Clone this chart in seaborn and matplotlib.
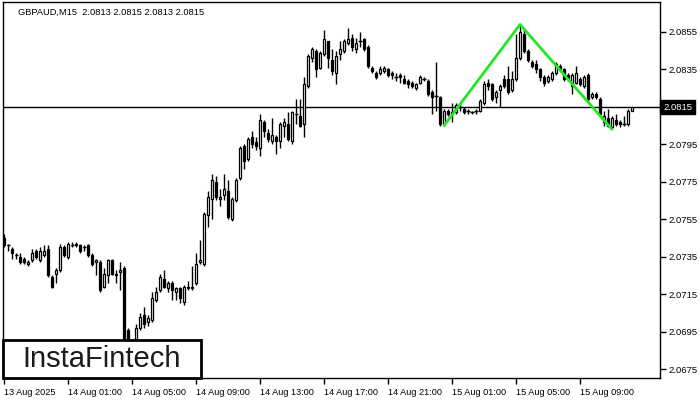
import numpy as np
import pandas as pd
import matplotlib
matplotlib.use("Agg")
import matplotlib.pyplot as plt
import seaborn as sns
from matplotlib.patches import Rectangle

symbol_title = "GBPAUD,M15  2.0813 2.0815 2.0813 2.0815"
time_labels = ["13 Aug 2025", "14 Aug 01:00", "14 Aug 05:00", "14 Aug 09:00", "14 Aug 13:00",
               "14 Aug 17:00", "14 Aug 21:00", "15 Aug 01:00", "15 Aug 05:00", "15 Aug 09:00"]
label_bars = [0, 16, 32, 48, 64, 80, 96, 112, 128, 144]
y_ticks = [2.0675, 2.0695, 2.0715, 2.0735, 2.0755, 2.0775, 2.0795, 2.0815, 2.0835, 2.0855]
current_price = 2.0815

opens = [2.0745, 2.0741, 2.0739, 2.0736, 2.0735, 2.0734, 2.0731, 2.0733, 2.0738, 2.0733,
         2.0736, 2.0739, 2.0724, 2.0726, 2.0728, 2.0740, 2.0735, 2.0741, 2.0742, 2.0741,
         2.0740, 2.0741, 2.0736, 2.0732, 2.0732, 2.0719, 2.0725, 2.0733, 2.0726, 2.0727,
         2.0729, 2.0696, 2.0685, 2.0691, 2.0697, 2.0704, 2.0700, 2.0701, 2.0712, 2.0717,
         2.0723, 2.0718, 2.0721, 2.0716, 2.0718, 2.0711, 2.0719, 2.0718, 2.0721, 2.0732,
         2.0731, 2.0757, 2.0766, 2.0775, 2.0766, 2.0768, 2.0770, 2.0755, 2.0765, 2.0777,
         2.0794, 2.0787, 2.0799, 2.0796, 2.0793, 2.0807, 2.0801, 2.0797, 2.0799, 2.0797,
         2.0805, 2.0806, 2.0797, 2.0811, 2.0810, 2.0806, 2.0826, 2.0841, 2.0845, 2.0836,
         2.0843, 2.0850, 2.0840, 2.0833, 2.0843, 2.0845, 2.0849, 2.0852, 2.0846, 2.0850,
         2.0851, 2.0847, 2.0836, 2.0833, 2.0833, 2.0834, 2.0835, 2.0833, 2.0831, 2.0832,
         2.0830, 2.0829, 2.0828, 2.0825, 2.0828, 2.0830, 2.0829, 2.0823, 2.0821, 2.0820,
         2.0806, 2.0813, 2.0811, 2.0812, 2.0815, 2.0814, 2.0813, 2.0812, 2.0813, 2.0813,
         2.0817, 2.0828, 2.0827, 2.0820, 2.0824, 2.0830, 2.0830, 2.0824, 2.0830, 2.0841,
         2.0854, 2.0845, 2.0839, 2.0838, 2.0835, 2.0831, 2.0829, 2.0830, 2.0833, 2.0837,
         2.0835, 2.0832, 2.0826, 2.0828, 2.0830, 2.0826, 2.0832, 2.0820, 2.0822, 2.0819,
         2.0807, 2.0809, 2.0804, 2.0808, 2.0807, 2.0806, 2.0806, 2.0813]
highs = [2.0747, 2.0742, 2.0740, 2.0737, 2.0737, 2.0735, 2.0733, 2.0739, 2.0739, 2.0740,
         2.0741, 2.0741, 2.0725, 2.0729, 2.0742, 2.0741, 2.0743, 2.0743, 2.0743, 2.0742,
         2.0741, 2.0742, 2.0737, 2.0734, 2.0733, 2.0729, 2.0734, 2.0734, 2.0728, 2.0732,
         2.0730, 2.0697, 2.0690, 2.0699, 2.0705, 2.0708, 2.0704, 2.0716, 2.0719, 2.0726,
         2.0728, 2.0722, 2.0722, 2.0719, 2.0719, 2.0720, 2.0722, 2.0730, 2.0737, 2.0744,
         2.0759, 2.0770, 2.0779, 2.0778, 2.0771, 2.0779, 2.0776, 2.0767, 2.0777, 2.0794,
         2.0795, 2.0799, 2.0802, 2.0799, 2.0811, 2.0808, 2.0803, 2.0809, 2.0800, 2.0807,
         2.0809, 2.0812, 2.0813, 2.0819, 2.0819, 2.0831, 2.0843, 2.0847, 2.0846, 2.0845,
         2.0856, 2.0850, 2.0846, 2.0845, 2.0850, 2.0851, 2.0857, 2.0854, 2.0852, 2.0855,
         2.0852, 2.0848, 2.0837, 2.0834, 2.0837, 2.0837, 2.0836, 2.0834, 2.0833, 2.0833,
         2.0832, 2.0830, 2.0829, 2.0828, 2.0832, 2.0831, 2.0830, 2.0824, 2.0839, 2.0821,
         2.0814, 2.0814, 2.0817, 2.0817, 2.0817, 2.0815, 2.0814, 2.0813, 2.0814, 2.0819,
         2.0829, 2.0830, 2.0828, 2.0824, 2.0827, 2.0832, 2.0837, 2.0834, 2.0854, 2.0859,
         2.0856, 2.0846, 2.0840, 2.0840, 2.0836, 2.0832, 2.0832, 2.0834, 2.0839, 2.0838,
         2.0836, 2.0833, 2.0833, 2.0837, 2.0831, 2.0832, 2.0833, 2.0823, 2.0823, 2.0820,
         2.0813, 2.0814, 2.0810, 2.0811, 2.0808, 2.0810, 2.0814, 2.0815]
lows = [2.0740, 2.0738, 2.0734, 2.0734, 2.0731, 2.0731, 2.0730, 2.0732, 2.0734, 2.0732,
        2.0735, 2.0724, 2.0718, 2.0721, 2.0727, 2.0735, 2.0734, 2.0740, 2.0740, 2.0737,
        2.0738, 2.0735, 2.0730, 2.0725, 2.0716, 2.0718, 2.0721, 2.0725, 2.0721, 2.0717,
        2.0684, 2.0685, 2.0682, 2.0688, 2.0696, 2.0697, 2.0698, 2.0700, 2.0711, 2.0716,
        2.0718, 2.0716, 2.0712, 2.0712, 2.0710, 2.0709, 2.0717, 2.0717, 2.0720, 2.0731,
        2.0730, 2.0751, 2.0755, 2.0765, 2.0762, 2.0765, 2.0755, 2.0754, 2.0764, 2.0776,
        2.0782, 2.0786, 2.0793, 2.0792, 2.0789, 2.0799, 2.0796, 2.0795, 2.0790, 2.0793,
        2.0799, 2.0797, 2.0795, 2.0806, 2.0804, 2.0799, 2.0825, 2.0839, 2.0831, 2.0835,
        2.0842, 2.0836, 2.0832, 2.0827, 2.0840, 2.0844, 2.0848, 2.0845, 2.0844, 2.0847,
        2.0845, 2.0836, 2.0833, 2.0830, 2.0832, 2.0833, 2.0831, 2.0830, 2.0829, 2.0828,
        2.0827, 2.0825, 2.0825, 2.0824, 2.0827, 2.0829, 2.0821, 2.0811, 2.0813, 2.0805,
        2.0805, 2.0810, 2.0807, 2.0811, 2.0813, 2.0811, 2.0811, 2.0811, 2.0811, 2.0812,
        2.0816, 2.0824, 2.0818, 2.0817, 2.0815, 2.0825, 2.0822, 2.0823, 2.0829, 2.0840,
        2.0844, 2.0839, 2.0836, 2.0833, 2.0829, 2.0826, 2.0828, 2.0829, 2.0832, 2.0834,
        2.0829, 2.0829, 2.0822, 2.0827, 2.0826, 2.0825, 2.0818, 2.0819, 2.0819, 2.0810,
        2.0805, 2.0804, 2.0803, 2.0805, 2.0804, 2.0805, 2.0805, 2.0813]
closes = [2.0741, 2.0741, 2.0737, 2.0736, 2.0732, 2.0732, 2.0732, 2.0737, 2.0735, 2.0738,
          2.0738, 2.0725, 2.0719, 2.0728, 2.0740, 2.0736, 2.0742, 2.0741, 2.0741, 2.0738,
          2.0740, 2.0736, 2.0731, 2.0733, 2.0717, 2.0726, 2.0733, 2.0726, 2.0725, 2.0728,
          2.0691, 2.0688, 2.0689, 2.0697, 2.0703, 2.0699, 2.0702, 2.0713, 2.0716, 2.0724,
          2.0719, 2.0721, 2.0717, 2.0718, 2.0713, 2.0719, 2.0718, 2.0719, 2.0731, 2.0733,
          2.0758, 2.0767, 2.0776, 2.0767, 2.0767, 2.0771, 2.0756, 2.0766, 2.0776, 2.0793,
          2.0786, 2.0798, 2.0795, 2.0794, 2.0808, 2.0802, 2.0798, 2.0800, 2.0797, 2.0806,
          2.0807, 2.0798, 2.0812, 2.0811, 2.0805, 2.0827, 2.0842, 2.0846, 2.0835, 2.0844,
          2.0851, 2.0841, 2.0834, 2.0842, 2.0846, 2.0850, 2.0851, 2.0847, 2.0849, 2.0850,
          2.0846, 2.0837, 2.0834, 2.0831, 2.0835, 2.0836, 2.0832, 2.0832, 2.0831, 2.0831,
          2.0828, 2.0827, 2.0826, 2.0827, 2.0831, 2.0830, 2.0822, 2.0820, 2.0821, 2.0806,
          2.0813, 2.0811, 2.0812, 2.0816, 2.0815, 2.0812, 2.0813, 2.0812, 2.0813, 2.0818,
          2.0827, 2.0826, 2.0819, 2.0823, 2.0826, 2.0826, 2.0823, 2.0830, 2.0841, 2.0855,
          2.0845, 2.0840, 2.0837, 2.0835, 2.0831, 2.0828, 2.0831, 2.0833, 2.0838, 2.0835,
          2.0830, 2.0830, 2.0832, 2.0833, 2.0827, 2.0831, 2.0819, 2.0822, 2.0820, 2.0811,
          2.0810, 2.0805, 2.0809, 2.0806, 2.0806, 2.0806, 2.0813, 2.0815]

pattern_bars = [110, 129, 152]
pattern_prices = [2.0805, 2.0859, 2.0803]

sns.set_style("white")
plt.rcParams["font.family"] = ["Liberation Sans", "DejaVu Sans"]

fig = plt.figure(figsize=(7, 4), dpi=100)
ax = fig.add_axes([3 / 700, 22 / 400, 657 / 700, 376 / 400])

df = pd.DataFrame({"bar": np.arange(len(opens)), "open": opens, "high": highs,
                   "low": lows, "close": closes})
bull = df["close"] >= df["open"]

ax.axhline(current_price, color="black", lw=1, zorder=1)
ax.vlines(df["bar"], df["low"], df["high"], color="black", lw=1, zorder=2)
ax.bar(df["bar"], df["close"] - df["open"], bottom=df["open"], width=0.62,
       color=np.where(bull, "white", "black"), edgecolor="black", lw=0.9, zorder=3)
doji = df["close"] == df["open"]
ax.hlines(df.loc[doji, "open"], df.loc[doji, "bar"] - 0.4, df.loc[doji, "bar"] + 0.4,
          color="black", lw=1, zorder=3)

pat = pd.DataFrame({"bar": pattern_bars, "price": pattern_prices})
sns.lineplot(data=pat, x="bar", y="price", color="#22e622", lw=2, ax=ax, zorder=4, sort=False)

ax.set_xlim(-0.3, 164)
ax.set_ylim(2.06702, 2.08710)
ax.set_xlabel("")
ax.set_ylabel("")

ax.yaxis.tick_right()
ax.set_yticks(y_ticks)
# the current-price box covers the 2.0815 level label, as in the terminal
ax.set_yticklabels(["" if abs(v - current_price) < 1e-9 else f"{v:.4f}" for v in y_ticks])
ax.set_xticks(label_bars)
ax.set_xticklabels(time_labels)
for lab in ax.get_xticklabels():
    lab.set_ha("left")
ax.tick_params(axis="y", which="both", right=True, left=False, length=4, width=1,
               pad=2, labelsize=6.8, colors="black", direction="out")
ax.tick_params(axis="x", which="both", bottom=True, length=4, width=1, pad=3,
               labelsize=6.6, colors="black", direction="out")
for s in ax.spines.values():
    s.set_color("black")
    s.set_linewidth(1)

fig.text(18 / 700, 1 - 12 / 400, symbol_title, fontsize=6.7, va="center", ha="left", color="black")
fig.text(663 / 700, 1 - 107 / 400, f"{current_price:.4f}", fontsize=6.8, va="center", ha="left",
         color="white", bbox=dict(boxstyle="square,pad=0.3", fc="black", ec="black"))

fig.add_artist(Rectangle((3 / 700, 22 / 400), 198 / 700, 38 / 400, transform=fig.transFigure,
                         fc="white", ec="black", lw=2, zorder=10))
fig.text(102 / 700, 1 - 359 / 400, "InstaFintech", fontsize=21, va="center", ha="center",
         color="#1a1a1a", zorder=11)

fig.savefig("out.png", dpi=100)
